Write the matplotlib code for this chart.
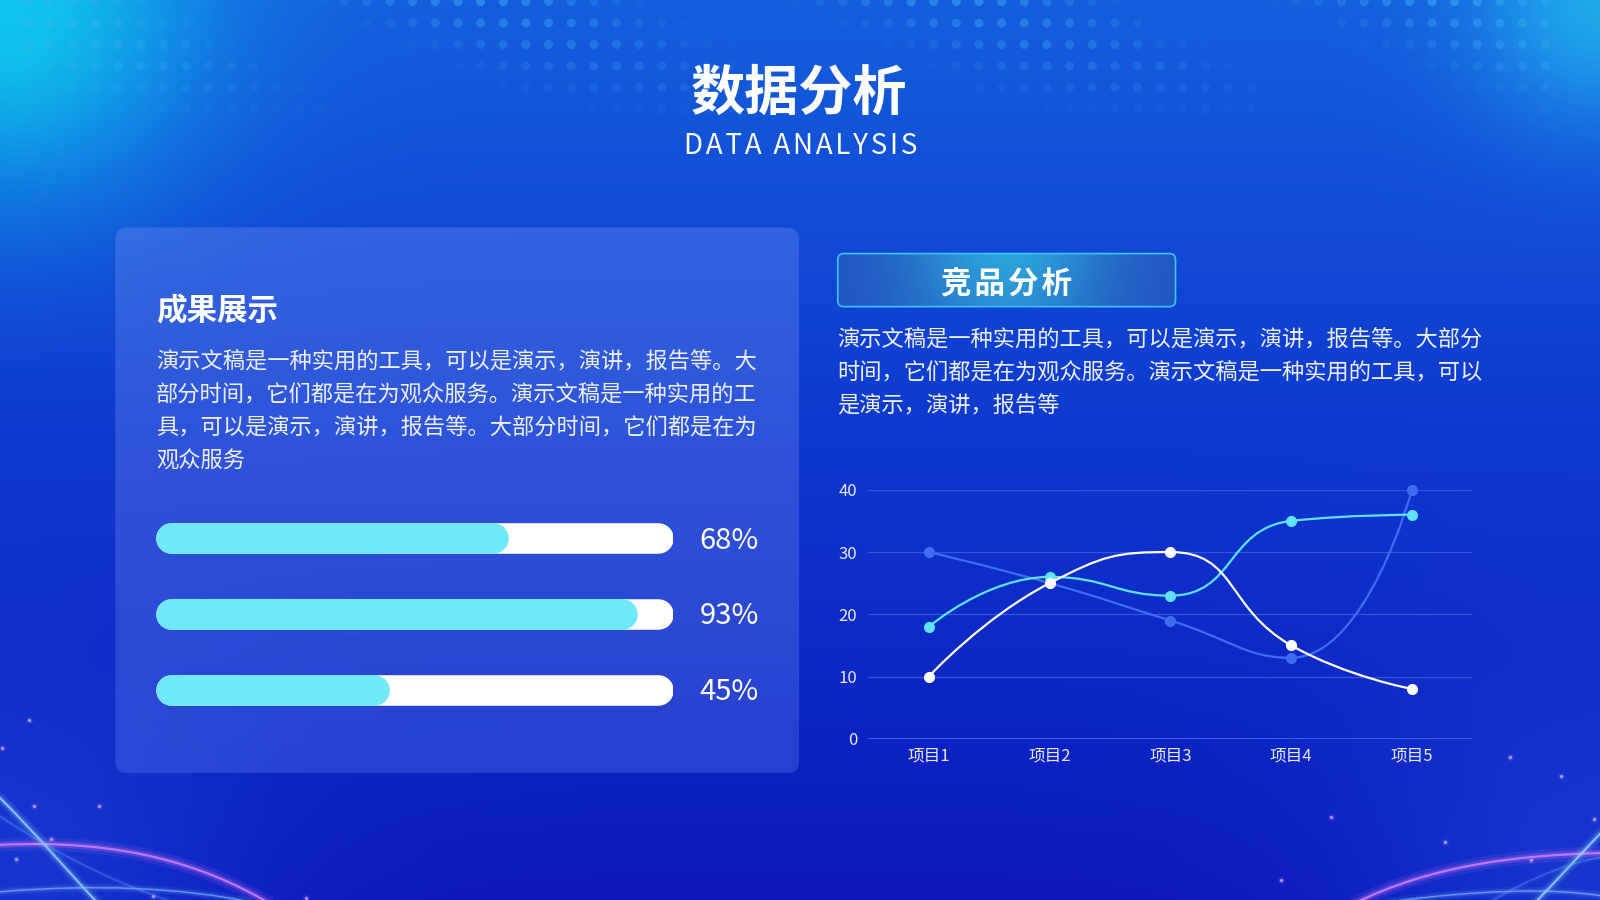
import numpy as np
import matplotlib
matplotlib.use("Agg")
import matplotlib.pyplot as plt
from matplotlib.patches import FancyBboxPatch, PathPatch
from matplotlib.path import Path

plt.rcParams['font.family'] = ['Noto Sans CJK SC', 'DejaVu Sans']

# ---- data ----
items = ['项目1', '项目2', '项目3', '项目4', '项目5']
series_cyan = [18, 26, 23, 35, 36]
series_blue = [30, 25, 19, 13, 40]
series_white = [10, 25, 30, 15, 8]
y_ticks = [0, 10, 20, 30, 40]

progress = [68, 93, 45]

title = '数据分析'
subtitle = 'DATA ANALYSIS'
left_head = '成果展示'
left_text = [
    '演示文稿是一种实用的工具，可以是演示，演讲，报告等。大',
    '部分时间，它们都是在为观众服务。演示文稿是一种实用的工',
    '具，可以是演示，演讲，报告等。大部分时间，它们都是在为',
    '观众服务',
]
right_head = '竞品分析'
right_text = [
    '演示文稿是一种实用的工具，可以是演示，演讲，报告等。大部分',
    '时间，它们都是在为观众服务。演示文稿是一种实用的工具，可以',
    '是演示，演讲，报告等',
]

CYAN = '#5fe2f4'
BLUE = '#3f6df0'
BAR_FILL = '#6fe8f8'

# layout works in a 1568 x 882 reference grid
W, H = 1568, 882

fig = plt.figure(figsize=(16, 9), dpi=100)
bg = fig.add_axes([0, 0, 1, 1])
bg.axis('off')


# ---- background gradient ----
ny, nx = 221, 392
yy, xx = np.mgrid[0:H:ny * 1j, 0:W:nx * 1j]
t = yy / H
top = np.array([20, 95, 220]) / 255
mid = np.array([15, 55, 206]) / 255
bot = np.array([11, 24, 188]) / 255
u = np.clip(t / 0.5, 0, 1)[..., None]
v = np.clip((t - 0.5) / 0.5, 0, 1)[..., None]
img = np.where(t[..., None] < 0.5, top * (1 - u) + mid * u, mid * (1 - v) + bot * v)


def glow(img, color, cx, cy, r, strength):
    d = np.hypot(xx - cx, yy - cy)
    w = (strength * np.exp(-(d / r) ** 2))[..., None]
    return img * (1 - w) + np.array(color) / 255 * w


img = glow(img, (15, 205, 240), 0, 0, 190, 0.95)
img = glow(img, (35, 185, 240), W, 0, 120, 0.8)
img = glow(img, (40, 95, 235), 0, H, 240, 0.4)
img = glow(img, (40, 95, 235), W, H, 240, 0.4)
bg.imshow(np.clip(img, 0, 1), extent=(0, W, H, 0), aspect='auto',
          interpolation='bicubic', zorder=0)

# dot pattern at the top
dx = np.arange(27, 1520, 22.2)
dy = np.arange(1.6, 112, 21)
gx, gy = np.meshgrid(dx, dy)
row = (gy - 1.6) / 21
a = 0.5 * (1 - row / 6) * np.clip(0.4 + 0.6 * np.cos(2 * np.pi * (gx - 40 * row) / 470), 0, 1)
cols = np.zeros((gx.size, 4))
cols[:, :3] = np.array([60, 180, 245]) / 255
cols[:, 3] = a.ravel()
bg.scatter(gx.ravel(), gy.ravel(), s=42, c=cols, lw=0, zorder=1)


# ---- bottom corner swooshes ----
def swoosh(pts, color, lw, alpha):
    p = Path(pts, [Path.MOVETO, Path.CURVE4, Path.CURVE4, Path.CURVE4])
    for k, al in ((6, 0.12), (3, 0.25), (1, 1.0)):
        bg.add_patch(PathPatch(p, fc='none', ec=color, lw=lw * k, alpha=alpha * al,
                               capstyle='round', zorder=1))


swoosh([(0, 828), (120, 822), (200, 848), (262, 884)], '#d27cf5', 1.6, 0.9)
swoosh([(0, 782), (40, 822), (70, 858), (95, 884)], '#9fe2ff', 1.3, 0.8)
swoosh([(0, 874), (90, 866), (180, 870), (245, 884)], '#8fc8ff', 1.0, 0.6)
swoosh([(0, 800), (60, 840), (120, 868), (170, 884)], '#6fb0ff', 0.8, 0.35)
swoosh([(1330, 884), (1400, 850), (1480, 838), (1570, 836)], '#d27cf5', 1.6, 0.9)
swoosh([(1505, 884), (1530, 858), (1550, 836), (1570, 815)], '#9fe2ff', 1.3, 0.8)
swoosh([(1360, 884), (1450, 872), (1520, 870), (1570, 878)], '#8fc8ff', 1.0, 0.6)
swoosh([(1460, 884), (1500, 860), (1540, 845), (1570, 840)], '#6fb0ff', 0.8, 0.35)

star_x = [28, 2, 33, 97, 16, 50, 150, 300, 1530, 1562, 1304, 1416, 1500, 1480, 1255]
star_y = [706, 733, 790, 790, 842, 822, 878, 880, 760, 803, 801, 825, 843, 742, 862]
bg.scatter(star_x, star_y, s=22, c='#a070ff', alpha=0.25, lw=0, zorder=1)
bg.scatter(star_x, star_y, s=5, c='#c8a0ff', alpha=0.9, lw=0, zorder=1)

# ---- titles ----
bg.text(783, 92, title, ha='center', va='center', fontsize=39,
        fontweight='bold', color='white', zorder=3)
bg.text(785, 143, '\u200a'.join(subtitle), ha='center', va='center', fontsize=20,
        color='white', zorder=3)

# ---- left panel ----
panel = FancyBboxPatch((113, 223), 670, 535, boxstyle='round,pad=0,rounding_size=12',
                       fc='none', ec='none', zorder=1)
bg.add_patch(panel)
g = np.linspace(0, 1, 100)[:, None]
rgba = np.zeros((100, 2, 4))
rgba[..., :3] = np.array([110, 140, 240]) / 255
rgba[..., 3] = 0.37 - 0.08 * g
im = bg.imshow(rgba, extent=(113, 783, 758, 223), aspect='auto', zorder=1)
im.set_clip_path(panel)

bg.text(153, 305, left_head, ha='left', va='center', fontsize=22,
        fontweight='bold', color='white', zorder=3)
for i, line in enumerate(left_text):
    bg.text(153, 354 + i * 32.5, line, ha='left', va='center', fontsize=16,
            color='#eef2ff', zorder=3)

# ---- right header ----
head = FancyBboxPatch((821, 248.5), 331, 52, boxstyle='round,pad=0,rounding_size=6',
                      fc='none', ec='#3cc6ee', lw=1.2, zorder=3)
bg.add_patch(head)
hx = np.linspace(0, 1, 200)
hv = np.linspace(0, 1, 40)[:, None]
edge = np.array([34, 82, 192]) / 255
center = np.array([44, 165, 220]) / 255
wgt = np.exp(-((hx - 0.5) / 0.3) ** 2)[None, :, None] * (1 - 0.25 * hv)[..., None]
himg = edge * (1 - wgt) + center * wgt
him = bg.imshow(himg, extent=(821, 1152, 300.5, 248.5), aspect='auto', zorder=2)
him.set_clip_path(head)
bg.text(986, 278, '\u200a'.join(right_head), ha='center', va='center', fontsize=22,
        fontweight='bold', color='white', zorder=4)

for i, line in enumerate(right_text):
    bg.text(820, 332 + i * 32.8, line, ha='left', va='center', fontsize=16,
            color='#eef2ff', zorder=3)

bg.set_xlim(0, W)
bg.set_ylim(H, 0)

# ---- progress bars ----
ax_b = fig.add_axes([153 / W, 1 - 712.9 / H, 507 / W, 222.8 / H])
ax_b.set_xlim(0, 100)
ax_b.set_ylim(2.5, -0.5)
ax_b.axis('off')
lw = 22.0
ax_w_px = ax_b.get_position().width * fig.get_figwidth() * fig.dpi
r = (lw / 72 * fig.dpi / 2) / ax_w_px * 100
for i, val in enumerate(progress):
    ax_b.plot([r, 100 - r], [i, i], lw=lw, color='white', solid_capstyle='round')
    ax_b.plot([r, val - r], [i, i], lw=lw, color=BAR_FILL, solid_capstyle='round')
    ax_b.text(105.1, i + 0.035, f'{val}%', ha='left', va='center', fontsize=21,
              color='white', clip_on=False)

# ---- line chart ----
ax = fig.add_axes([851 / W, 1 - 724 / H, 592 / W, 244 / H])
ax.set_facecolor('none')
ax.set_xlim(-0.5, 4.5)
ax.set_ylim(0, 40)
for s in ax.spines.values():
    s.set_visible(False)
ax.set_yticks(y_ticks)
ax.set_xticks(range(len(items)))
ax.set_xticklabels(items)
ax.tick_params(length=0, labelsize=12, colors='#e6ecff')
ax.tick_params(axis='y', pad=8)
ax.tick_params(axis='x', pad=6)
ax.grid(axis='y', color='#3456dc', lw=0.9)
ax.axhline(0, color='#4e70ee', lw=1.1)


def smooth_path(ax, xs, ys, smooth=0.5):
    # echarts-like bezier smoothing, done in display space
    pts = ax.transData.transform(np.column_stack([xs, ys]))
    n = len(pts)
    cin = [pts[0].copy() for _ in range(n)]
    cout = [pts[-1].copy() for _ in range(n)]
    for i in range(n):
        p = pts[i]
        if i == 0:
            cout[i] = p.copy()
            continue
        if i == n - 1:
            cin[i] = p.copy()
            continue
        prev, nxt = pts[i - 1], pts[i + 1]
        vec = nxt - prev
        l0 = np.hypot(*(p - prev))
        l1 = np.hypot(*(nxt - p))
        ratio = l1 / (l0 + l1)
        c1 = p + vec * smooth * ratio
        c1 = np.clip(c1, np.minimum(nxt, p), np.maximum(nxt, p))
        vec = c1 - p
        c0 = p - vec * l0 / l1
        c0 = np.clip(c0, np.minimum(prev, p), np.maximum(prev, p))
        vec = p - c0
        c1 = p + vec * l1 / l0
        cin[i], cout[i] = c0, c1
    verts = [pts[0]]
    codes = [Path.MOVETO]
    for i in range(1, n):
        verts += [cout[i - 1], cin[i], pts[i]]
        codes += [Path.CURVE4] * 3
    verts = ax.transData.inverted().transform(np.array(verts))
    return Path(verts, codes)


for ys, col, z in ((series_blue, BLUE, 3), (series_cyan, CYAN, 4), (series_white, 'white', 5)):
    xs = np.arange(len(ys))
    ax.add_patch(PathPatch(smooth_path(ax, xs, ys), fc='none', ec=col, lw=1.6,
                           zorder=z, clip_on=False))
    ax.plot(xs, ys, 'o', ms=7, color=col, zorder=z + 0.5, clip_on=False)

fig.savefig('out.png', dpi=100)
